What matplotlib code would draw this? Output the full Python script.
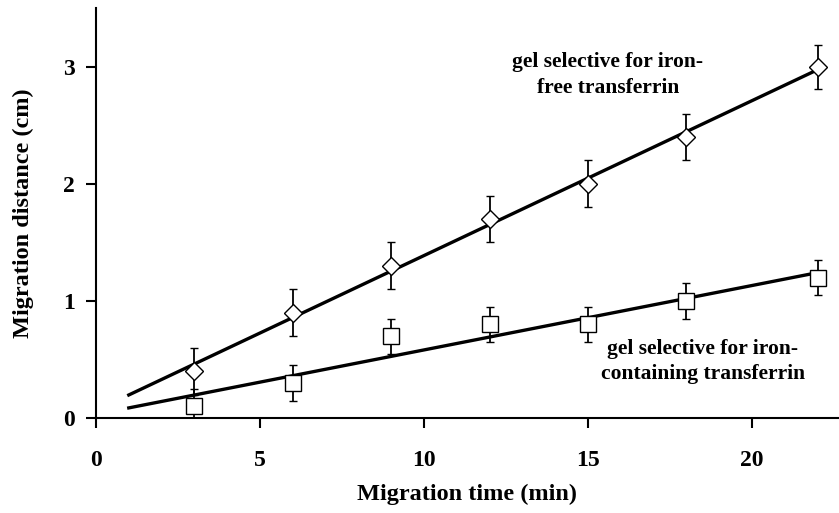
import numpy as np
import matplotlib
matplotlib.use("Agg")
import matplotlib.pyplot as plt

# Migration distance vs time for the two selective gels
time_min = [3, 6, 9, 12, 15, 18, 22]
dist_free = [0.4, 0.9, 1.3, 1.7, 2.0, 2.4, 3.0]
err_free = [0.2, 0.2, 0.2, 0.2, 0.2, 0.2, 0.19]
dist_holo = [0.1, 0.3, 0.7, 0.8, 0.8, 1.0, 1.2]
err_holo = [0.15, 0.15, 0.15, 0.15, 0.15, 0.15, 0.15]
fit_range = [1, 22]

plt.rcParams["font.family"] = ["Liberation Serif", "DejaVu Serif"]
plt.rcParams["font.weight"] = "bold"

fig = plt.figure(figsize=(8.39, 5.13), dpi=100)
ax = fig.add_axes([0.1144, 0.185, 0.8856, 0.799])

# Linear fits through each series
xfit = np.array(fit_range)
for y in (dist_free, dist_holo):
    slope, icpt = np.polyfit(time_min, y, 1)
    ax.plot(xfit, slope * xfit + icpt, color="black", lw=2.4, zorder=2)

ax.errorbar(time_min, dist_free, yerr=err_free, fmt="D", ms=9,
            mfc="white", mec="black", mew=1.0, ecolor="black",
            elinewidth=1.3, capsize=3, capthick=1.3, zorder=3)
ax.errorbar(time_min, dist_holo, yerr=err_holo, fmt="s", ms=12,
            mfc="white", mec="black", mew=1.0, ecolor="black",
            elinewidth=1.3, capsize=3, capthick=1.3, zorder=3)

ax.text(15.6, 2.93, "gel selective for iron-\nfree transferrin",
        ha="center", va="center", fontsize=15.5, fontweight="bold",
        linespacing=1.35)
ax.text(18.5, 0.485, "gel selective for iron-\ncontaining transferrin",
        ha="center", va="center", fontsize=15.5, fontweight="bold",
        linespacing=1.35)

ax.set_xlim(0, 22.65)
ax.set_ylim(0, 3.5)
ax.set_xticks([0, 5, 10, 15, 20])
ax.set_yticks([0, 1, 2, 3])
ax.spines["top"].set_visible(False)
ax.spines["right"].set_visible(False)
ax.spines["left"].set_linewidth(1.5)
ax.spines["bottom"].set_linewidth(1.5)
ax.tick_params(direction="out", length=7, width=1.5, labelsize=17)
ax.tick_params(axis="x", pad=16)
ax.tick_params(axis="y", pad=8)
for lab in ax.get_xticklabels() + ax.get_yticklabels():
    lab.set_fontweight("bold")

ax.set_xlabel("Migration time (min)", fontsize=17.5, fontweight="bold", labelpad=9)
ax.set_ylabel("Migration distance (cm)", fontsize=17.5, fontweight="bold", labelpad=21)

fig.savefig("out.png", dpi=100)
